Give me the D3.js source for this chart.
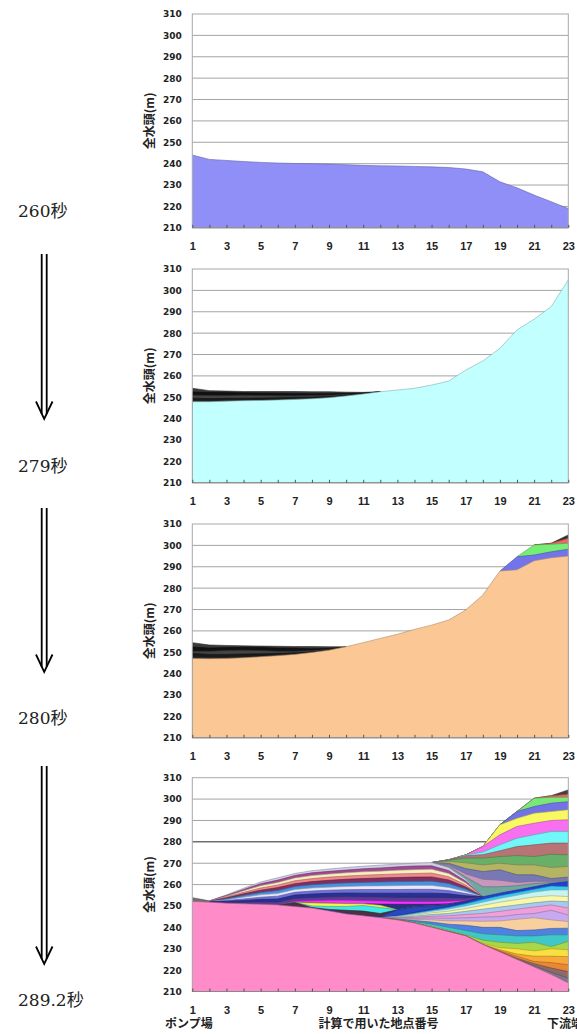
<!DOCTYPE html>
<html>
<head>
<meta charset="utf-8" />
<title>全水頭の時間変化</title>
<script src="https://cdn.jsdelivr.net/npm/d3@7/dist/d3.min.js"></script>
<style>
  body { margin: 0; background: #fff; }
  svg { display: block; }
</style>
</head>
<body>
<script>
const _ = null

// categories (計算で用いた地点番号) and axis ticks
const points = [1, 2, 3, 4, 5, 6, 7, 8, 9, 10, 11, 12, 13, 14, 15, 16, 17, 18, 19, 20, 21, 22, 23]
const tickLabels = [1, 3, 5, 7, 9, 11, 13, 15, 17, 19, 21, 23]
const yTicks = [210, 220, 230, 240, 250, 260, 270, 280, 290, 300, 310]
const gridValues = [220, 230, 240, 250, 260, 270, 280, 290, 300]
const timeLabels = ['260秒', '279秒', '280秒', '289.2秒']

// ---- 260秒 ----
const head260 = [244, 242, 241.5, 241, 240.6, 240.3, 240.1, 240, 239.8, 239.5, 239.2, 239, 238.9, 238.7, 238.5, 238.2, 237.5, 236.2, 231.5, 228.7, 225.3, 222.2, 219]

// ---- 279秒 ----
const dark279a = [254.2, 253.1, 252.9, 252.7, 252.7, 252.7, 252.7, 252.6, 252.6, 252.4, 252.3, 252.6, _, _, _, _, _, _, _, _, _, _, _]
const dark279b = [252.5, 252.3, 252.2, 252.1, 252, 251.9, 251.8, 251.6, 251.7, 251.9, 252, 252.6, _, _, _, _, _, _, _, _, _, _, _]
const dark279c = [251, 250.8, 250.8, 250.9, 250.8, 250.7, 250.7, 250.8, 251, 251.3, 251.7, 252.6, _, _, _, _, _, _, _, _, _, _, _]
const dark279d = [249.6, 249.4, 249.5, 249.6, 249.7, 249.8, 250, 250.1, 250.4, 250.9, 251.6, 252.6, _, _, _, _, _, _, _, _, _, _, _]
const dark279e = [248.6, 248.5, 248.7, 248.8, 248.9, 249.1, 249.4, 249.6, 250.1, 250.7, 251.5, 252.6, _, _, _, _, _, _, _, _, _, _, _]
const head279 = [247.9, 247.9, 248.2, 248.4, 248.5, 248.7, 249, 249.3, 249.8, 250.6, 251.5, 252.6, 253.4, 254.2, 255.7, 257.6, 262.7, 267, 272.9, 281.5, 286.5, 292.4, 304.9]

// ---- 280秒 ----
const spike280 = [_, _, _, _, _, _, _, _, _, _, _, _, _, _, _, _, _, _, _, _, 300.2, 301, 304.9]
const red280 = [_, _, _, _, _, _, _, _, _, _, _, _, _, _, _, _, _, _, _, _, 300.2, 301, 303.3]
const green280 = [_, _, _, _, _, _, _, _, _, _, _, _, _, _, _, _, _, _, _, 294.7, 300.2, 300.5, 301]
const blue280 = [_, _, _, _, _, _, _, _, _, _, _, _, _, _, _, _, _, _, 288, 294.7, 295.5, 297, 298.2]
const dark280a = [254.5, 253.4, 253.2, 253, 252.9, 252.8, 252.7, 252.7, 252.6, 252.6, _, _, _, _, _, _, _, _, _, _, _, _, _]
const dark280b = [252.5, 252, 252.2, 252.3, 252.2, 252, 251.9, 251.6, 251.8, 252.4, _, _, _, _, _, _, _, _, _, _, _, _, _]
const dark280c = [250.5, 250.5, 250.8, 251, 250.8, 250.5, 250.5, 250.8, 251.4, 252.4, _, _, _, _, _, _, _, _, _, _, _, _, _]
const dark280d = [249.5, 249, 249, 249.2, 249.3, 249.5, 249.8, 250.2, 251.2, 252.4, _, _, _, _, _, _, _, _, _, _, _, _, _]
const dark280e = [248, 247.8, 247.8, 248, 248.3, 248.8, 249.3, 250, 251.1, 252.4, _, _, _, _, _, _, _, _, _, _, _, _, _]
const head280 = [247.1, 247, 247.1, 247.4, 247.9, 248.4, 249, 249.9, 251, 252.6, 254.5, 256.5, 258.4, 260.7, 262.7, 265.1, 269.8, 276.8, 288, 288.6, 292.8, 294.2, 295]

// ---- 289.2秒 ----
const g0 = [253.9, 252.4, _, _, _, _, _, _, _, _, _, _, _, _, _, _, _, _, _, _, _, _, _]
// upper right group
const ur1 = [_, _, _, _, _, _, _, _, _, _, _, _, _, _, 270.3, 271.6, 273.9, 277.8, 288, 294.2, 300.4, 301.6, 304.3]
const ur2 = [_, _, _, _, _, _, _, _, _, _, _, _, _, _, 270.3, 271.6, 273.9, 277.8, 288, 294.2, 300.4, 301.6, 302.3]
const ur3 = [_, _, _, _, _, _, _, _, _, _, _, _, _, _, 270.3, 271.6, 273.9, 277.8, 288, 294.2, 300.4, 300.8, 300.9]
const ur4 = [_, _, _, _, _, _, _, _, _, _, _, _, _, _, 270.3, 271.6, 273.9, 277.8, 288, 294.2, 296.5, 298.1, 298.8]
const ur5 = [_, _, _, _, _, _, _, _, _, _, _, _, _, _, 270.3, 271.6, 273.9, 277.8, 288, 291, 293.4, 294.2, 295]
const ur6 = [_, _, _, _, _, _, _, _, _, _, _, _, _, _, 270.3, 271.6, 273.9, 277.8, 283.3, 287.2, 288.7, 290, 290.3]
const ur7 = [_, _, _, _, _, _, _, _, _, _, _, _, _, _, 270.3, 271.6, 273.9, 275.2, 278.6, 281.7, 283.3, 284.8, 284.8]
const ur8 = [_, _, _, _, _, _, _, _, _, _, _, _, _, _, 270.3, 271.6, 273.5, 274, 275.8, 277.8, 278.6, 279.4, 279.4]
const ur9 = [_, _, _, _, _, _, _, _, _, _, _, _, _, _, 270.3, 271.4, 272.4, 272.4, 273.1, 273.6, 273.1, 274.2, 273.9]
const ur10 = [_, _, _, _, _, _, _, _, _, _, _, _, _, _, 270.3, 270.9, 270.2, 269.2, 270, 269.2, 269.2, 268, 268.5]
const ur11 = [_, _, _, _, _, _, _, _, _, _, _, _, _, _, 270.3, 270, 267.5, 266.1, 266.9, 264.6, 264.6, 262.8, 263.5]
const ur12 = [_, _, _, _, _, _, _, _, _, _, _, _, _, _, 270.3, 269, 265, 262.5, 262, 261, 261.5, 261.5, 262.3]
const ur13 = [_, _, _, _, _, _, _, _, _, _, _, _, _, _, 270.3, 268.5, 263.5, 259, 259, 259.5, 260.5, 261, 262]
// upper stripes
const a1 = [_, 252.4, 255.2, 258.3, 261.2, 263.2, 265.2, 266.5, 267.3, 268, 268.6, 269.1, 269.6, 270, 270.3, 268, 262.5, 254.3, _, _, _, _, _]
const a2 = [_, 252.4, 254.9, 257.7, 260.4, 262.1, 264.3, 265.5, 266.2, 266.8, 267.4, 267.8, 268.3, 268.7, 268.8, 266.6, 261.6, 254.3, _, _, _, _, _]
const a3 = [_, 252.3, 254.5, 257.1, 259.5, 261, 263.1, 264.2, 264.9, 265.5, 266, 266.3, 266.7, 267, 267.2, 265.2, 260.7, 254.3, _, _, _, _, _]
const a4 = [_, 252.3, 254.2, 256.4, 258.4, 259.8, 261.8, 262.8, 263.5, 264, 264.4, 264.7, 265, 265.2, 265.4, 263.7, 259.8, 254.3, _, _, _, _, _]
const a5 = [_, 252.2, 253.8, 255.7, 257.4, 258.6, 260.4, 261.4, 262, 262.5, 262.8, 263.1, 263.3, 263.5, 263.6, 262.2, 258.9, 254.3, _, _, _, _, _]
const a6 = [_, 252.1, 253.4, 254.9, 256.3, 257.2, 259.1, 259.9, 260.4, 260.8, 261, 261.2, 261.4, 261.5, 261.6, 260.5, 257.9, 254.3, _, _, _, _, _]
const a7 = [_, 252.1, 252.9, 254.1, 255.2, 255.8, 257.7, 258.4, 258.8, 259.1, 259.3, 259.4, 259.5, 259.6, 259.6, 258.7, 256.8, 254.3, _, _, _, _, _]
const a8 = [_, 252, 252.6, 253.3, 254.1, 254.6, 256.4, 257, 257.4, 257.6, 257.7, 257.7, 257.7, 257.8, 257.8, 257.2, 255.8, 254.3, _, _, _, _, _]
const a9 = [_, 252, 252.2, 252.6, 253.1, 253.3, 255.1, 255.6, 255.9, 256.1, 256, 256, 256, 256, 256, 255.7, 254.8, 254.3, _, _, _, _, _]
const a10 = [_, 251.9, 251.7, 251.8, 251.9, 251.9, 253.6, 254, 254.3, 254.4, 254.3, 254.2, 254, 254, 254, 253.9, 253.7, 254.3, _, _, _, _, _]
// middle lens
const b1 = [_, _, _, _, _, 250.5, 252.2, 252.5, 252.7, 252.7, 252.5, 252.3, 252.1, 252, 252, 252.2, 252.6, 254.3, _, _, _, _, _]
const b2 = [_, _, _, _, _, 250.5, 251.6, 251.4, 251.3, 251.1, 251, 250.9, 250.8, 250.8, 250.8, 251, 252.3, 254.3, _, _, _, _, _]
const b3 = [_, _, _, _, _, 250.5, 251.6, 251.4, 251.3, 251.1, 251, 250.3, 248.2, 249.6, 250, 250.6, 252.1, 254.3, _, _, _, _, _]
const b4 = [_, _, _, _, _, 250.5, 251.6, 250, 249.8, 249.8, 250.2, 249.3, 248.2, 249.6, 250, 250.6, 252.1, 254.3, _, _, _, _, _]
const b5 = [_, _, _, _, _, 250.5, 251.6, 249.3, 248.4, 248, 247.6, 246.5, 248.2, 249.6, 250, 250.6, 252.1, 254.3, _, _, _, _, _]
const b6 = [_, _, _, _, _, 250.5, 249.7, 249, 247.9, 246.5, 245.6, 245, 248.2, 249.6, 250, 250.6, 252.1, 254.3, _, _, _, _, _]
// downstream fan
const c1 = [_, _, _, _, _, _, _, _, _, _, _, 244.5, 245.5, 247, 248.5, 250, 251.8, 254.3, 256, 257.5, 259, 260.5, 261.5]
const c2 = [_, _, _, _, _, _, _, _, _, _, _, 244.5, 245.3, 246.6, 248, 249.3, 251, 253, 254.8, 256.3, 257.8, 259.3, 259]
const c3 = [_, _, _, _, _, _, _, _, _, _, _, 244.5, 245.1, 246.2, 247.5, 248.6, 250, 251.8, 253.5, 255, 256.5, 257.5, 257.5]
const c4 = [_, _, _, _, _, _, _, _, _, _, _, 244.5, 244.9, 245.7, 246.8, 247.6, 248.8, 250.3, 251.8, 253, 254.2, 254.8, 254.4]
const c5 = [_, _, _, _, _, _, _, _, _, _, _, 244.5, 244.7, 245.2, 246, 246.5, 247.5, 248.5, 249.5, 250.5, 251.5, 252.3, 252]
const c6 = [_, _, _, _, _, _, _, _, _, _, _, 244.5, 244.5, 244.7, 245.2, 245.4, 246, 246.5, 247.5, 248.5, 249.5, 250.5, 249]
const c7 = [_, _, _, _, _, _, _, _, _, _, _, 244.5, 244.3, 244.2, 244.4, 244.3, 244.5, 244.8, 245, 246, 246.5, 248, 245.8]
const c8 = [_, _, _, _, _, _, _, _, _, _, _, 244.5, 244.1, 243.7, 243.5, 243, 243, 242.8, 243, 243.8, 244.5, 243.5, 242.7]
const c9 = [_, _, _, _, _, _, _, _, _, _, _, 244.5, 243.9, 243.2, 242.5, 241.5, 241, 240, 240, 238.5, 238.8, 239.5, 239.6]
const c10 = [_, _, _, _, _, _, _, _, _, _, _, 244.5, 243.7, 242.7, 241.5, 240, 238.5, 237, 236.5, 236, 236, 236.5, 236.5]
const c11 = [_, _, _, _, _, _, _, _, _, _, _, 244.5, 243.5, 242.2, 240.5, 238.5, 236.5, 234, 233, 232.5, 233, 231, 233.4]
const c12 = [_, _, _, _, _, _, _, _, _, _, _, 244.5, 243.5, 242, 240, 238, 236, 232.5, 230.5, 230, 229, 230, 229.5]
const c13 = [_, _, _, _, _, _, _, _, _, _, _, 244.5, 243.5, 242, 240, 238, 236, 232, 229.5, 227.5, 226.5, 226.5, 226.3]
const c14 = [_, _, _, _, _, _, _, _, _, _, _, 244.5, 243.5, 242, 240, 238, 236, 232, 229, 226.5, 224, 223.5, 222.5]
const c15 = [_, _, _, _, _, _, _, _, _, _, _, 244.5, 243.5, 242, 240, 238, 236, 232, 228.7, 225.5, 223, 221, 219.3]
const c16 = [_, _, _, _, _, _, _, _, _, _, _, 244.5, 243.5, 242, 240, 238, 236, 232, 228.5, 225, 222, 219, 216.2]
const head289 = [252.1, 251.8, 251.3, 251, 250.8, 250.5, 249.7, 249, 247.7, 246.3, 245.4, 244.5, 243.5, 242, 240, 238, 236, 232, 228.5, 225, 221.5, 218, 214]

// series back to front, each with its fill
const charts = [
    {
        series: [[head260, '#8f8ff7']]
    },
    {
        series: [
            [dark279a, '#3a3a3a'], [dark279b, '#111'], [dark279c, '#444'],
            [dark279d, '#1a1a1a'], [dark279e, '#2c2c2c'],
            [head279, '#c2ffff']
        ]
    },
    {
        series: [
            [spike280, '#303030'], [red280, '#f06464'], [green280, '#74ee74'], [blue280, '#7474ea'],
            [dark280a, '#3a3a3a'], [dark280b, '#111'], [dark280c, '#444'],
            [dark280d, '#1a1a1a'], [dark280e, '#2c2c2c'],
            [head280, '#fbc895']
        ]
    },
    {
        darkGrid: 280,
        footer: true,
        series: [
            [g0, '#707070'],
            [ur1, '#404040'], [ur2, '#f06060'], [ur3, '#78e878'], [ur4, '#7272e6'], [ur5, '#f8f860'],
            [ur6, '#f870f0'], [ur7, '#70f8f8'], [ur8, '#b87474'], [ur9, '#68b068'], [ur10, '#b4b464'],
            [ur11, '#7878b4'], [ur12, '#c898bc'], [ur13, '#70a8a0'],
            [a1, '#d0d0e8'], [a2, '#a04890'], [a3, '#f6f0c0'], [a4, '#f08888'], [a5, '#803060'],
            [a6, '#4890e0'], [a7, '#e8e8f8'], [a8, '#7070d8'], [a9, '#283090'], [a10, '#5a3c98'],
            [b1, '#ff30ff'], [b2, '#283080'], [b3, '#f8f840'], [b4, '#40e8e8'], [b5, '#503040'], [b6, '#2848c0'],
            [c1, '#2040d0'], [c2, '#38c8f0'], [c3, '#c8f4f0'], [c4, '#f8f8a8'], [c5, '#a8c8f0'],
            [c6, '#f0a0d8'], [c7, '#c8a8f0'], [c8, '#f8d0a0'], [c9, '#5080e0'], [c10, '#40c8c8'],
            [c11, '#a8d848'], [c12, '#f8e040'], [c13, '#f8a838'], [c14, '#e88830'], [c15, '#906868'],
            [c16, '#787888'],
            [head289, '#ff8cc8']
        ]
    }
]

const W = 577, H = 1034
const plotLeft = 192.3, plotWidth = 376
const plotTops = [14, 269, 524, 777.7]
const plotHeight = 213.8

const labelBaselines = [217, 472, 724, 1006]
const arrows = [[254, 419], [508, 672], [766, 964]]

const svg = d3.select('body').append('svg')
    .attr('width', W)
    .attr('height', H)

svg.append('rect').attr('width', W).attr('height', H).attr('fill', '#fff')

const x = d3.scalePoint().domain(points).range([0, plotWidth])
const y = d3.scaleLinear().domain([210, 310]).range([plotHeight, 0])

const area = d3.area()
    .defined(d => d != null)
    .x((d, i) => x(points[i]))
    .y0(plotHeight)
    .y1(d => y(d))

const line = d3.line()
    .defined(d => d != null)
    .x((d, i) => x(points[i]))
    .y(d => y(d))

charts.forEach(function (chart, ci) {
    const g = svg.append('g')
        .attr('transform', `translate(${plotLeft}, ${plotTops[ci]})`)

    // gridlines
    g.selectAll('line.grid')
        .data(gridValues)
        .enter().append('line')
        .attr('class', 'grid')
        .attr('x1', 0).attr('x2', plotWidth)
        .attr('y1', d => y(d)).attr('y2', d => y(d))
        .attr('stroke', d => d === chart.darkGrid ? '#2a2a2a' : '#a4a4a4')
        .attr('stroke-width', 1)

    // overlapping areas, back to front
    chart.series.forEach(function (s) {
        const [values, fill] = s
        g.append('path')
            .datum(values)
            .attr('d', area)
            .attr('fill', fill)
        g.append('path')
            .datum(values)
            .attr('d', line)
            .attr('fill', 'none')
            .attr('stroke', d3.color(fill).darker(1.1))
            .attr('stroke-width', 0.6)
    })

    // plot frame
    g.append('rect')
        .attr('width', plotWidth).attr('height', plotHeight)
        .attr('fill', 'none')
        .attr('stroke', '#a8a8a8')
    g.append('line')
        .attr('x1', 0).attr('x2', plotWidth)
        .attr('y1', plotHeight).attr('y2', plotHeight)
        .attr('stroke', '#888')

    // minor ticks at every point
    g.append('g')
        .attr('transform', `translate(0, ${plotHeight})`)
        .call(d3.axisBottom(x).tickValues(points).tickSize(-3).tickFormat(''))
        .call(a => a.select('.domain').remove())
        .selectAll('line').attr('stroke', '#555')

    // x labels
    g.append('g')
        .attr('transform', `translate(0, ${plotHeight})`)
        .call(d3.axisBottom(x).tickValues(tickLabels).tickSize(0))
        .call(a => a.select('.domain').remove())
        .selectAll('text')
        .attr('y', 22).attr('dy', 0)
        .attr('fill', '#222')
        .style('font-family', '"Liberation Sans", Arial, sans-serif')
        .style('font-weight', 'bold')
        .style('font-size', '11px')

    // y labels
    g.append('g')
        .call(d3.axisLeft(y).tickValues(yTicks).tickSize(0).tickPadding(10.5))
        .call(a => a.select('.domain').remove())
        .selectAll('text')
        .attr('fill', '#222')
        .style('font-family', '"DejaVu Sans", sans-serif')
        .style('font-weight', 'bold')
        .style('font-size', '9px')

    // y title
    g.append('text')
        .attr('transform', `translate(-43, ${plotHeight / 2}) rotate(-90)`)
        .attr('text-anchor', 'middle')
        .attr('dy', '0.35em')
        .attr('fill', '#222')
        .style('font-family', '"Noto Sans CJK JP", sans-serif')
        .style('font-weight', 'bold')
        .style('font-size', '12px')
        .text('全水頭(m)')

    if (chart.footer) {
        const f = g.append('g')
            .attr('fill', '#222')
            .style('font-family', '"Noto Sans CJK JP", sans-serif')
            .style('font-weight', 'bold')
            .style('font-size', '12px')
        f.append('text').attr('x', 165 - plotLeft).attr('y', plotHeight + 36.5).text('ポンプ場')
        f.append('text').attr('x', 318.5 - plotLeft).attr('y', plotHeight + 36.5).text('計算で用いた地点番号')
        f.append('text').attr('x', 547 - plotLeft).attr('y', plotHeight + 36.5).text('下流端')
    }
})

// time labels on the left
svg.selectAll('text.time')
    .data(timeLabels)
    .enter().append('text')
    .attr('class', 'time')
    .attr('x', 18)
    .attr('y', (d, i) => labelBaselines[i])
    .attr('fill', '#222')
    .style('font-family', '"DejaVu Serif", "Noto Sans CJK JP", serif')
    .style('font-size', '17px')
    .text(d => d)

// double arrows between the labels
arrows.forEach(function (a) {
    const [top, tip] = a
    const ag = svg.append('g')
        .attr('stroke', '#000')
        .attr('stroke-width', 1.8)
        .attr('fill', 'none')
    ag.append('line').attr('x1', 41.7).attr('x2', 41.7).attr('y1', top).attr('y2', tip - 5)
    ag.append('line').attr('x1', 46.7).attr('x2', 46.7).attr('y1', top).attr('y2', tip - 5)
    ag.append('path').attr('d', `M36,${tip - 17.5}L44.2,${tip}L52.5,${tip - 17.5}`)
})
</script>
</body>
</html>
